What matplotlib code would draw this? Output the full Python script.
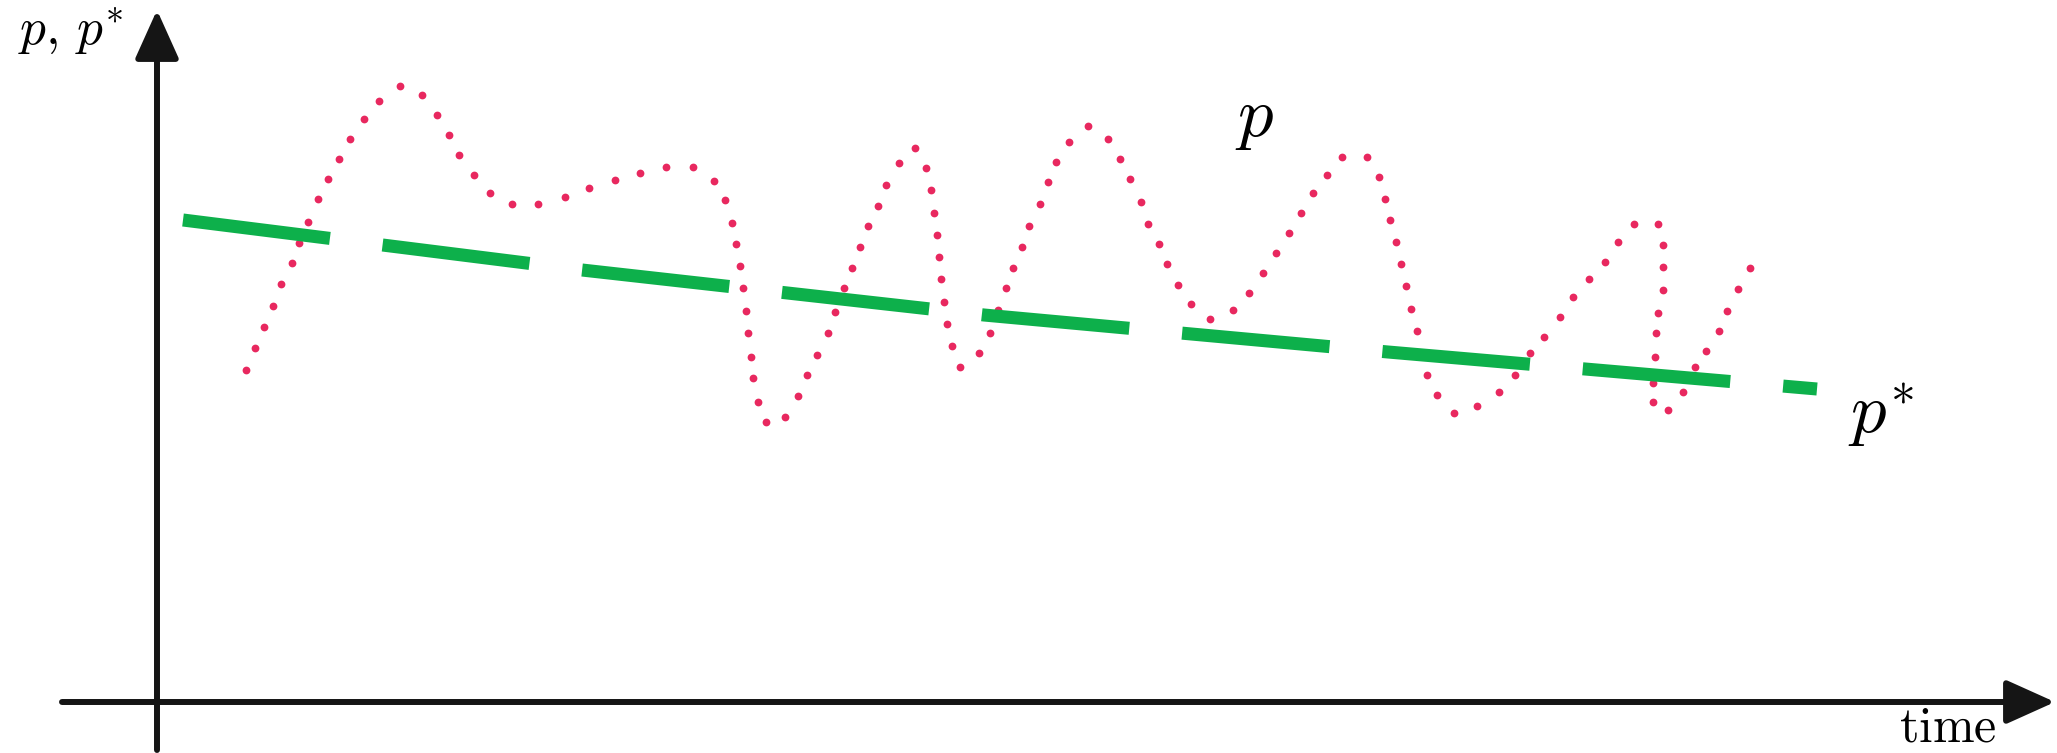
import numpy as np
import matplotlib
matplotlib.use('Agg')
import matplotlib.pyplot as plt
from matplotlib import rcParams
rcParams['mathtext.fontset'] = 'cm'
rcParams['lines.scale_dashes'] = False

# p(t): dotted price path, read dot by dot off the sketch
time_p = [89, 97.5, 107, 115.5, 124, 134.5, 142, 151, 160.5, 171, 182, 193, 206.5, 222,
          242.5, 264.5, 280, 291.5, 302, 317, 333, 355, 381, 408, 431.5, 457.5, 483, 508.5,
          535.5, 556.5, 567.5, 574.5, 579, 583, 585.5, 588.5, 591, 593.5, 595.5, 601, 609,
          628, 641, 650, 660, 671, 678, 687, 695, 702.5, 711, 720.5, 728.5, 742, 758, 769,
          774, 777, 779.5, 782, 784, 786.5, 790, 795, 803, 821.5, 832.5, 841, 849, 855.5,
          864.5, 872, 882.5, 890.5, 899, 911.5, 930.5, 951, 962.5, 972.5, 984, 991, 1002,
          1010, 1020.5, 1034, 1053, 1076, 1092, 1105.5, 1119, 1131.5, 1143.5, 1155.5, 1170,
          1185, 1210, 1222, 1228, 1233, 1239, 1244, 1249, 1254, 1260, 1265, 1270, 1280, 1297,
          1320, 1342, 1358, 1373, 1387, 1403, 1416, 1432, 1448, 1461, 1477, 1501, 1506, 1506,
          1506, 1501, 1499, 1498, 1496, 1496, 1511, 1526, 1538, 1549, 1562, 1570, 1581, 1593]
p = [332, 354, 375, 396, 418, 439, 459, 480, 503, 523, 543, 563, 583, 601,
     616, 607, 587, 567, 547, 527, 509, 498, 498, 505, 514, 522, 529, 535,
     535, 521, 502, 479, 458, 436, 414, 391, 369, 345, 324, 300, 280,
     285, 306, 327, 347, 369, 390, 414, 434, 455, 476, 496, 517, 539, 554, 534,
     512, 489, 467, 445, 423, 400, 378, 356, 335, 349, 369, 392, 414, 434,
     455, 476, 498, 520, 540, 560, 576, 563, 543, 523, 500, 478, 458,
     438, 417, 398, 383, 392, 409, 429, 449, 469, 489, 509, 527,
     545, 545, 525, 503, 482, 460, 438, 416, 393, 371, 349, 327, 307, 289,
     296, 310, 327, 349, 365, 385, 405, 423, 440, 460, 478, 478, 457, 435,
     412, 389, 369, 345, 319, 300, 292, 310, 335, 351, 371, 391, 413, 434]

# p*(t): slowly falling trend
time_star = [26, 425, 827, 1231, 1660]
p_star = [482, 432, 387, 350, 313]

fig = plt.figure(figsize=(20.57, 7.53), dpi=100)
ax = fig.add_axes([0, 0, 1, 1])
ax.set_xlim(-157, 1900)
ax.set_ylim(-51, 702)
ax.set_axis_off()

ax.plot(time_p, p, linestyle='none', marker='o', markersize=5.6,
        markeredgewidth=0, color='#e8285f')
ax.plot(time_star, p_star, color='#0db04b', linewidth=9.4,
        dashes=(106.6, 38.2), dash_capstyle='butt')

# axes drawn as arrows
arrow = dict(arrowstyle='-|>,head_length=1.0,head_width=0.45', mutation_scale=30,
             lw=4.3, color='#151515', shrinkA=0, shrinkB=0)
ax.annotate('', xy=(1898, 0), xytext=(-95, 0), arrowprops=arrow)
ax.annotate('', xy=(0, 692), xytext=(0, -48), arrowprops=arrow)

ax.text(-139, 658, r'$p,\, p^{*}$', fontsize=37, ha='left', va='baseline')
ax.text(1078, 566, r'$p$', fontsize=51, ha='left', va='baseline')
ax.text(1691, 269, r'$p^{*}$', fontsize=51, ha='left', va='baseline')
ax.text(1742, -40, r'$\mathrm{time}$', fontsize=36, ha='left', va='baseline')

plt.savefig('out.png', dpi=100)
